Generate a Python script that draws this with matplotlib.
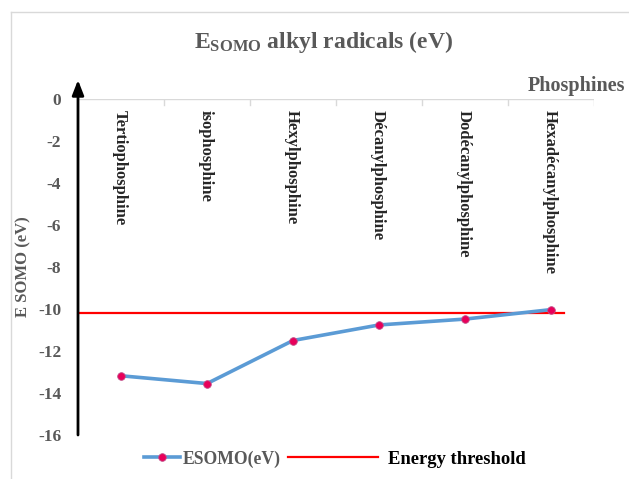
import matplotlib
matplotlib.use("Agg")
import matplotlib.pyplot as plt
from matplotlib.lines import Line2D

categories = ["Tertiophosphine", "isophosphine", "Hexylphosphine",
              "Décanylphosphine", "Dodécanylphosphine", "Hexadécanylphosphine"]
esomo = [-13.18, -13.55, -11.5, -10.76, -10.48, -10.03]
threshold = -10.2
yticks = [0, -2, -4, -6, -8, -10, -12, -14, -16]

plt.rcParams['font.family'] = ['Liberation Serif', 'DejaVu Serif']
plt.rcParams['font.weight'] = 'bold'
plt.rcParams['mathtext.fontset'] = 'custom'
plt.rcParams['mathtext.rm'] = 'Liberation Serif:bold'
plt.rcParams['mathtext.it'] = 'Liberation Serif:bold'
plt.rcParams['mathtext.bf'] = 'Liberation Serif:bold'

W, H = 629, 479
fig = plt.figure(figsize=(W / 100, H / 100), dpi=100)

def fx(px):
    return px / W

def fy(py):
    return 1 - py / H

# outer light border
fig.add_artist(Line2D([fx(11), fx(11)], [fy(12), fy(479)], color='#d9d9d9', lw=1))
fig.add_artist(Line2D([fx(11), fx(629)], [fy(12), fy(12)], color='#d9d9d9', lw=1))

ax = fig.add_axes([fx(78), fy(435), fx(594) - fx(78), fy(99) - fy(435)])
n = len(categories)
xs = list(range(n))
ax.set_xlim(-0.5, n - 0.5)
ax.set_ylim(-16, 0)

for s in ['top', 'right', 'bottom', 'left']:
    ax.spines[s].set_visible(False)

# zero line and category boundary ticks
ax.axhline(0, color='#d9d9d9', lw=1, zorder=1)
for b in range(n):
    ax.plot([b + 0.5, b + 0.5], [0, -0.28], color='#d9d9d9', lw=1, zorder=1)

# vertical axis with arrow
ax.annotate('', xy=(0, 1 + 19 / 336), xytext=(0, 0), xycoords='axes fraction',
            textcoords='axes fraction',
            arrowprops=dict(arrowstyle='-|>,head_width=0.35,head_length=0.9',
                            color='black', lw=2.0, shrinkA=0, shrinkB=0),
            annotation_clip=False)

ax.set_xticks([])
ax.set_yticks(yticks)
ax.set_yticklabels([str(t) for t in yticks])
ax.tick_params(axis='y', length=0, pad=12, labelsize=12.5, labelcolor='#595959')

# threshold line
ax.plot([-0.5, 5.15], [threshold, threshold], color='#ff0000', lw=1.6, zorder=2)

# data series
ax.plot(xs, esomo, color='#5b9bd5', lw=2.6, marker='o', markersize=5.5,
        markerfacecolor='#e8005a', markeredgecolor='#c0508a', markeredgewidth=0.6,
        zorder=3)

# category labels
for x, c in zip(xs, categories):
    ax.text(x - 0.02, -0.5, c, rotation=270, ha='center', va='top', fontsize=12,
            fontweight='bold', color='#262626')

# titles and labels
fig.text(fx(323), fy(42), r"E$_{\mathrm{SOMO}}$ alkyl radicals (eV)", ha='center',
         va='center', fontsize=17, fontweight='bold', color='#595959')
fig.text(fx(625), fy(86), "Phosphines", ha='right', va='center', fontsize=14.5,
         fontweight='bold', color='#595959')
fig.text(fx(23), fy(267), "E SOMO (eV)", rotation=90, ha='center', va='center',
         fontsize=12, fontweight='bold', color='#595959')

# legends
h1 = Line2D([], [], color='#5b9bd5', lw=2.6, marker='o', markersize=5.5,
            markerfacecolor='#e8005a', markeredgecolor='#c0508a', markeredgewidth=0.6)
h2 = Line2D([], [], color='#ff0000', lw=1.6)
leg1 = fig.legend([h1], ["ESOMO(eV)"], loc='center left',
                  bbox_to_anchor=(fx(144), fy(459)), frameon=False, borderpad=0,
                  borderaxespad=0, handlelength=2.05, handletextpad=0.12,
                  prop={'family': 'Liberation Serif', 'size': 12.7})
for t in leg1.get_texts():
    t.set_color('#595959')
leg2 = fig.legend([h2], ["Energy threshold"], loc='center left',
                  bbox_to_anchor=(fx(288), fy(459)), frameon=False, borderpad=0,
                  borderaxespad=0, handlelength=4.85, handletextpad=0.53,
                  prop={'family': 'Liberation Serif', 'size': 13.4, 'weight': 'bold'})
for t in leg2.get_texts():
    t.set_color('black')

fig.savefig("out.png", dpi=100)
